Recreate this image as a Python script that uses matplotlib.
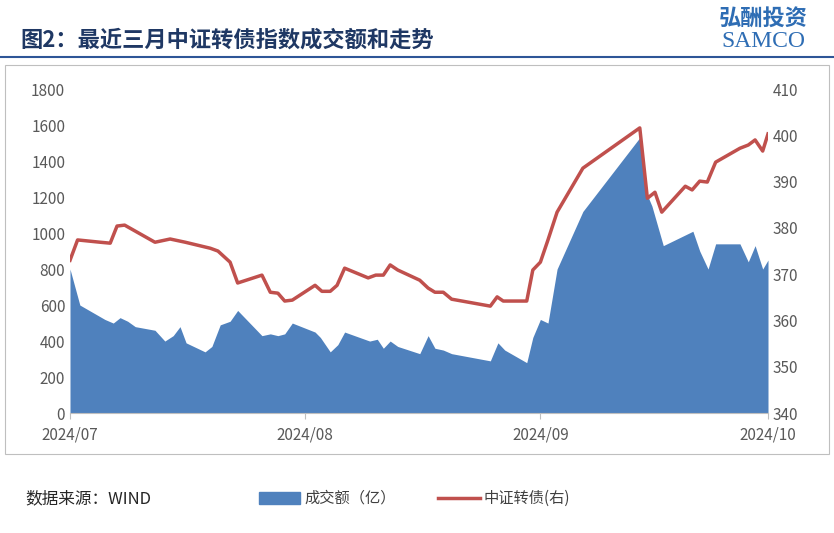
import matplotlib
matplotlib.use("Agg")
import matplotlib.pyplot as plt
import matplotlib.dates as mdates
import pandas as pd
from matplotlib.patches import Rectangle
from matplotlib.lines import Line2D

plt.rcParams["font.family"] = ["Noto Sans CJK SC"]

start = "2024-07-01"
vol_days = [0,1.3,4.6,5.7,6.6,7.6,8.6,11.2,12.5,13.6,14.5,15.3,17.8,18.7,19.8,21.1,22.1,25.3,26.4,27.4,28.3,29.3,
            32.3,33,34.3,35.3,36.2,39.5,40.5,41.3,42.2,43.2,46.1,47.2,48.1,49.2,50.3,55.4,56.4,57.3,60.2,61,62,63,
            64.2,67.6,75.1,75.8,76.7,78.2,82.1,83,84.1,85.1,88.3,89.4,90.3,91.3,92]
vol = [800,600,520,500,530,510,480,460,400,430,480,390,340,370,490,510,570,430,440,430,440,500,
       450,420,340,380,450,400,410,360,400,370,330,430,360,350,330,290,390,350,280,420,520,500,
       800,1120,1530,1240,1150,930,1010,900,800,940,940,840,930,800,850]
idx_days = [0,1,4,5.3,6.2,7.2,11.2,13.2,15.2,18.5,19.5,21.1,22.1,25.3,26.4,27.4,28.3,29.3,32.3,33.2,34.3,35.2,36.2,
            39.3,40.3,41.3,42.2,43.2,46.1,47.2,48.1,49.2,50.3,55.4,56.3,57.1,60.2,61,62,63,64.2,67.6,75.1,76.1,77.1,
            78,81.1,82,83,84,85.1,88.3,89.4,90.3,91.3,92]
idx = [373.0,377.4,376.9,376.7,380.4,380.6,376.9,377.6,376.9,375.6,375.0,372.6,368.1,369.8,366.1,365.9,364.2,364.4,
       367.6,366.3,366.3,367.6,371.3,369.2,369.8,369.8,372.0,370.9,368.7,367.0,366.1,366.1,364.6,363.1,365.1,364.2,
       364.2,370.9,372.6,377.4,383.4,392.9,401.6,386.4,387.7,383.4,389.0,388.2,390.1,389.9,394.2,397.2,397.9,399.0,
       396.6,400.3]

t0 = pd.Timestamp(start)
vx = [t0 + pd.Timedelta(days=d) for d in vol_days]
ix = [t0 + pd.Timedelta(days=d) for d in idx_days]

fig = plt.figure(figsize=(8.34, 5.33), dpi=100)
fig.patches.append(Rectangle((0.006, 0.148), 0.988, 0.73, transform=fig.transFigure,
                             fill=False, edgecolor="#BFBFBF", lw=0.8))
fig.add_artist(Line2D([0.0, 1.0], [0.893, 0.893], color="#2E5597", lw=1.5))
fig.text(0.025, 0.925, "图2：最近三月中证转债指数成交额和走势", fontsize=16, fontweight="bold", color="#1F3864", va="center")
fig.text(0.915, 0.965, "弘酬投资", fontsize=16, fontweight="bold", color="#2E6DB4", ha="center", va="center")
fig.text(0.915, 0.922, "SAMCO", fontsize=17, color="#2E6DB4", ha="center", va="center", family="Liberation Serif")

ax = fig.add_axes([70/834, 0.225, 698/834, 0.608])
ax.fill_between(vx, vol, 0, color="#4F81BD", lw=0)
ax.set_ylim(0, 1800)
ax.set_yticks(range(0, 1801, 200))
ax2 = ax.twinx()
ax2.plot(ix, idx, color="#C0504D", lw=2.5)
ax2.set_ylim(340, 410)
ax2.set_yticks(range(340, 411, 10))
ax.set_xlim(pd.Timestamp("2024-07-01"), pd.Timestamp("2024-10-01"))
ax.xaxis.set_major_locator(mdates.MonthLocator())
ax.xaxis.set_major_formatter(mdates.DateFormatter("%Y/%m"))
for a in (ax, ax2):
    for s in a.spines.values():
        s.set_visible(False)
    a.tick_params(labelsize=11, colors="#595959", length=0)
ax.spines["bottom"].set_visible(True)
ax.spines["bottom"].set_color("#BFBFBF")
ax.tick_params(axis="x", length=4, color="#BFBFBF", pad=6)

fig.text(0.03, 0.065, "数据来源：WIND", fontsize=12, style="italic", color="#262626", va="center")
fig.patches.append(Rectangle((0.31, 0.055), 0.05, 0.022, transform=fig.transFigure, color="#4F81BD"))
fig.text(0.365, 0.065, "成交额（亿）", fontsize=11, color="#404040", va="center")
fig.add_artist(Line2D([0.525, 0.575], [0.066, 0.066], color="#C0504D", lw=2.5))
fig.text(0.58, 0.065, "中证转债(右)", fontsize=11, color="#404040", va="center")
fig.savefig("out.png", dpi=100)
